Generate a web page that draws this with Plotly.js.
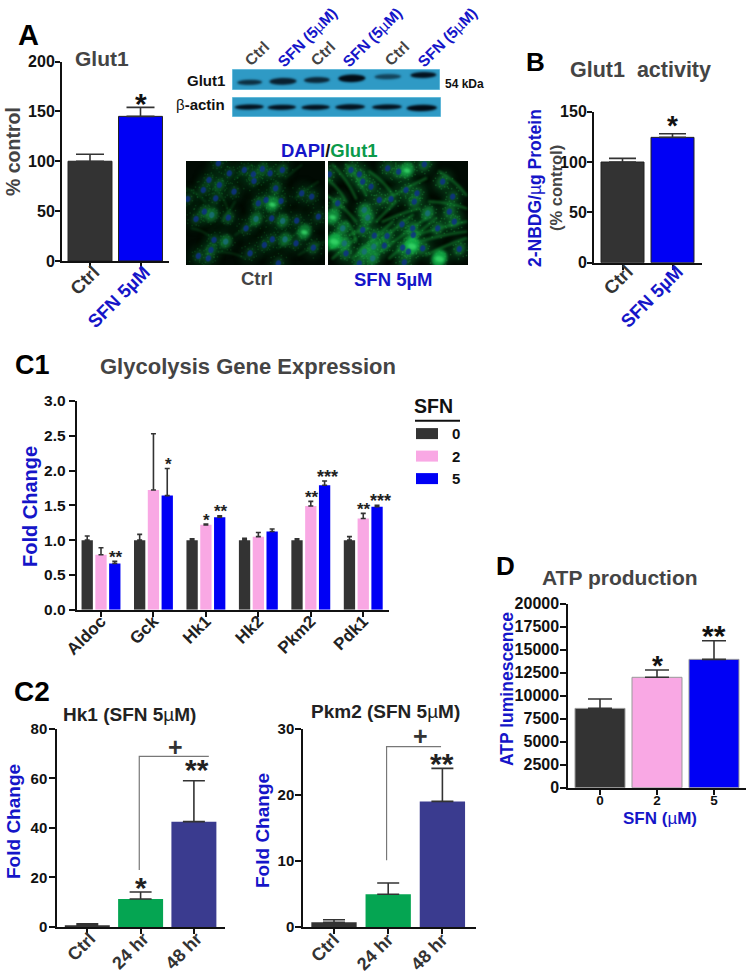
<!DOCTYPE html>
<html><head><meta charset="utf-8">
<script src="https://cdn.plot.ly/plotly-3.0.1.min.js"></script>
<style>html,body{margin:0;padding:0;background:#fff}#c{width:750px;height:980px}</style>
</head><body><div id="c"></div>
<script>
// ---- data ----
const glut1Cats = ['Ctrl','SFN 5µM'];
const glut1Vals = [100,145];
const glut1Errs = [7,9];
const activityCats = ['Ctrl','SFN 5µM'];
const activityVals = [100,124.5];
const activityErrs = [3.6,3.6];
const genes = ['Aldoc','Gck','Hk1','Hk2','Pkm2','Pdk1'];
const sfn0 = [1.0,1.0,1.0,1.0,1.0,1.0];
const sfn0Err = [0.06,0.083,0.02,0.025,0.02,0.05];
const sfn2 = [0.79,1.72,1.22,1.05,1.49,1.31];
const sfn2Err = [0.10,0.81,0.012,0.06,0.067,0.075];
const sfn5 = [0.665,1.64,1.33,1.125,1.79,1.48];
const sfn5Err = [0.03,0.39,0.02,0.035,0.06,0.02];
const timeCats = ['Ctrl','24 hr','48 hr'];
const hk1Vals = [0.7,11.3,42.5];
const hk1Errs = [0.6,2.8,16.5];
const pkm2Vals = [0.7,4.95,19];
const pkm2Errs = [0.4,1.7,5];
const atpCats = ['0','2','5'];
const atpVals = [8620,12000,13950];
const atpErrs = [1020,790,2030];
// micrograph nuclei: x, y (3x crop pixels), green glow level
const ctrlCells = [[100,15,1],[178,35,1],[133,45,1],[232,32,2],[255,45,1],[292,35,2],[205,48,1],[207,68,1],[72,65,1],[103,80,2],[55,95,1],[147,100,1],[8,122,1],[92,120,1],[272,90,2],[350,105,1],[380,115,1],[243,125,1],[288,128,1],[262,137,4],[220,135,2],[58,160,2],[80,170,3],[33,182,1],[130,178,2],[213,182,3],[260,180,1],[293,188,3],[335,187,1],[400,175,1],[183,210,1],[358,220,4],[87,245,1],[122,250,3],[262,243,1],[300,243,3],[238,260,1],[333,255,1],[385,268,2],[40,293,1],[78,275,2],[70,300,1],[195,285,1],[280,315,1]];
const sfnCells = [[185,30,1],[218,40,2],[243,35,4],[295,18,2],[100,48,1],[10,48,1],[75,35,2],[110,70,2],[135,85,1],[240,95,1],[273,105,1],[350,70,2],[380,115,1],[195,122,1],[160,125,1],[265,130,2],[35,135,2],[115,155,3],[125,178,3],[305,165,3],[370,160,2],[385,190,2],[50,210,3],[110,215,2],[228,198,1],[260,210,2],[335,210,2],[145,232,2],[183,233,2],[262,230,2],[25,248,5],[55,255,3],[143,265,3],[230,268,2],[258,262,5],[290,270,2],[175,262,2],[115,280,3],[247,280,2],[400,272,2],[340,300,5],[235,312,1],[140,300,3],[60,285,2],[100,315,2],[20,175,4]];
const ctrlFibres = [[0,90,60,130],[90,90,130,160],[150,60,200,20],[150,130,110,190],[300,60,350,20],[330,120,400,70],[20,210,80,240],[150,230,220,190],[280,270,340,220],[100,280,180,300],[340,290,420,250]];
const sfnFibres = [[0,60,60,130],[0,110,90,190],[20,20,90,120],[60,20,120,110],[130,40,200,110],[170,130,300,60],[60,190,90,250],[80,300,200,190],[110,290,260,170],[150,290,300,180],[190,300,330,180],[240,240,420,190],[280,250,420,220],[300,290,420,240],[0,280,60,240],[20,300,90,240],[210,130,150,190],[340,40,420,110],[310,130,420,150],[70,230,130,210],[170,190,280,150]];
// western-blot bands: x, y, w, h, darkness (3x crop pixels)
const glut1Bands = [[53,40,75,13,.75],[153,37,82,17,.85],[255,33,78,15,.8],[360,28,82,19,1],[468,23,80,13,.6],[575,18,78,15,.95]];
const actinBands = [[52,30,88,13,.95],[150,31,86,13,.95],[252,31,86,13,.95],[356,30,90,14,.95],[467,30,90,13,.95],[572,33,92,16,1]];

// ---- helpers ----
const W=750,H=980;
const FONT='Liberation Sans';
const DARK='#333333', BLUE='#0000f5', TBLUE='#1515c8', GREY='#444444', PINK='#f9a8e4', GREEN='#05a552', NAVY='#3a3b8f';
const idx=a=>a.map((_,i)=>i);
const blueLab=t=>`<span style="color:${TBLUE}">${t}</span>`;
function micrograph(cells,fibres,wpx,hpx,ox,oy,gain){
  const c=document.createElement('canvas');c.width=wpx;c.height=hpx;const g=c.getContext('2d');
  g.fillStyle='#010a03';g.fillRect(0,0,wpx,hpx);g.translate(-ox,-oy);
  g.filter='blur(10px)';
  cells.forEach(n=>{g.fillStyle=`rgba(15,95,40,${.22+gain*.2})`;g.beginPath();g.ellipse(n[0],n[1],30,36,.6,0,7);g.fill();});
  g.filter='blur(3px)';g.lineCap='round';
  fibres.forEach(f=>{g.strokeStyle=`rgba(25,165,60,${.25+gain*.2})`;g.lineWidth=5+gain*3;g.beginPath();g.moveTo(f[0],f[1]);g.quadraticCurveTo((f[0]+f[2])/2+8,(f[1]+f[3])/2-8,f[2],f[3]);g.stroke();});
  g.filter='blur(5px)';
  cells.forEach(n=>{const l=n[2];g.fillStyle=`rgba(22,${105+l*20},${55+l*6},${Math.min(.85,.16+gain*.08+l*.1)})`;g.beginPath();g.ellipse(n[0],n[1],12+l*2,16+l*2,.5,0,7);g.fill();});
  g.filter='blur(1px)';
  cells.forEach((n,i)=>{for(let k=0;k<14;k++){const a=i+k*2.4,r=14+(k*7)%20;g.fillStyle=`rgba(40,175,70,${.4+gain*.25})`;g.fillRect(n[0]+r*Math.cos(a)-1.5,n[1]+r*Math.sin(a)-1.5,3,3);}});
  g.filter='blur(3px)';
  cells.forEach(n=>{if(n[2]>=4){g.fillStyle='rgba(55,215,105,.85)';g.beginPath();g.ellipse(n[0],n[1]+2,10+(n[2]-4)*3,7+(n[2]-4)*2,.2,0,7);g.fill();}});
  g.filter='blur(1.5px)';
  cells.forEach(n=>{if(n[2]<4){g.fillStyle=n[2]>=3?'rgba(25,110,125,.8)':'rgba(14,48,140,.8)';g.beginPath();g.ellipse(n[0],n[1],8,9.5,.3,0,7);g.fill();}});
  return c.toDataURL('image/png');
}
function blot(bands,wpx,hpx){
  const c=document.createElement('canvas');c.width=wpx;c.height=hpx;const g=c.getContext('2d');
  g.fillStyle='#2f9ac5';g.fillRect(0,0,wpx,hpx);
  g.filter='blur(3px)';
  bands.forEach(b=>{g.fillStyle=`rgba(2,12,22,${b[4]})`;g.beginPath();g.ellipse(b[0],b[1],b[2]/2,b[3]*0.6,-0.02,0,7);g.fill();});
  g.filter='none';g.strokeStyle='#8fd3ea';g.lineWidth=3;g.strokeRect(0,0,wpx,hpx);
  return c.toDataURL('image/png');
}
function pimg(src,x0,y0,x1,y1){return {source:src,xref:'paper',yref:'paper',x:x0/W,y:1-y0/H,sizex:(x1-x0)/W,sizey:(y1-y0)/H,xanchor:'left',yanchor:'top',sizing:'stretch',layer:'below'};}
function txt(x,y,t,size,color,opt){return Object.assign({xref:'paper',yref:'paper',x:x/W,y:1-y/H,text:t,showarrow:false,xanchor:'center',yanchor:'middle',font:{family:FONT,size:size,color:color,weight:700}},opt||{});}
function star(ax,x,errTopVal,t,size,dy,dx,col){return {xref:ax[0],yref:ax[1],x:x,y:errTopVal,text:t,showarrow:false,xanchor:'center',yanchor:'bottom',xshift:dx||0,yshift:-0.45*size+(dy||0),font:{family:FONT,size:size,color:col||'#222',weight:700}};}
function xax(d,left,t0,pitch,right,vals,text,fs,angle){return {domain:[left/W,right/W],anchor:d.anchor,range:[(left-t0)/pitch,(right-t0)/pitch],tickmode:'array',tickvals:vals,ticktext:text,tickangle:angle,ticks:'outside',ticklen:5,tickwidth:2,tickcolor:'#111',ticklabelstandoff:d.standoff||0,ticklabelshift:d.shift||0,showline:true,linewidth:2,linecolor:'#111',showgrid:false,zeroline:false,fixedrange:true,tickfont:{family:FONT,size:fs,color:d.color||DARK,weight:700}};}
function yax(d,topPx,botPx,max,dtick,fs){return {domain:[1-botPx/H,1-topPx/H],anchor:d.anchor,range:[0,max],dtick:dtick,tick0:0,tickformat:d.fmt||'d',ticks:'outside',ticklen:d.len||6,tickwidth:2,tickcolor:'#111',ticklabelstandoff:d.standoff||0,showline:true,linewidth:2,linecolor:'#111',showgrid:false,zeroline:false,fixedrange:true,tickfont:{family:FONT,size:fs,color:'#111',weight:700}};}
function bar(xa,ya,x,y,e,colors,width,capw,extra){return Object.assign({type:'bar',xaxis:xa,yaxis:ya,x:x,y:y,width:width,showlegend:false,marker:{color:colors,line:{color:'#222',width:1}},error_y:{type:'data',symmetric:false,array:e,arrayminus:e.map(()=>0),color:'#333',thickness:1.6,width:capw}},extra||{});}

// ---- traces ----
const p=0.263,bw=0.2155;
const traces=[
 bar('x','y',idx(glut1Cats),glut1Vals,glut1Errs,[DARK,BLUE],0.87,14),
 bar('x2','y2',idx(activityCats),activityVals,activityErrs,[DARK,BLUE],0.86,13.5),
 bar('x3','y3',idx(genes),sfn0,sfn0Err,DARK,bw,2.5,{name:'0',showlegend:true,offset:-p-bw/2,marker:{color:DARK}}),
 bar('x3','y3',idx(genes),sfn2,sfn2Err,PINK,bw,2.5,{name:'2',showlegend:true,offset:-bw/2,marker:{color:PINK}}),
 bar('x3','y3',idx(genes),sfn5,sfn5Err,BLUE,bw,2.5,{name:'5',showlegend:true,offset:p-bw/2,marker:{color:BLUE}}),
 bar('x4','y4',idx(timeCats),hk1Vals,hk1Errs,[DARK,GREEN,NAVY],0.844,11,{marker:{color:[DARK,GREEN,NAVY]}}),
 bar('x5','y5',idx(timeCats),pkm2Vals,pkm2Errs,[DARK,GREEN,NAVY],0.836,11,{marker:{color:[DARK,GREEN,NAVY]}}),
 bar('x6','y6',idx(atpCats),atpVals,atpErrs,[DARK,PINK,BLUE],0.877,12,{marker:{color:[DARK,PINK,BLUE],line:{color:'#999',width:1}}})
];
const errTop=(v,e,i)=>v[i]+e[i];

// ---- annotations ----
const ann=[
 txt(28,35,'A',29,'#000'),txt(535,62,'B',26,'#000'),txt(32,365,'C1',27,'#000'),txt(32,691,'C2',28,'#000'),txt(505,566,'D',26,'#000'),
 txt(102,58,'Glut1',21,GREY),txt(640,70,'Glut1\u00a0\u00a0activity',21.5,GREY),txt(248,367,'Glycolysis Gene Expression',22,GREY),txt(620,577,'ATP production',21,GREY),
 txt(129,714,'Hk1 (SFN 5<span style="font-weight:normal">µ</span>M)',19,'#222'),txt(385,711,'Pkm2 (SFN 5<span style="font-weight:normal">µ</span>M)',19,'#222'),
 // y titles
 txt(13,152,'% control',19.5,GREY,{textangle:-90}),
 txt(535,188,'2-NBDG/<span style="font-weight:normal">µ</span>g Protein',17.5,TBLUE,{textangle:-90}),
 txt(556,188,'(% control)',16.5,GREY,{textangle:-90}),
 txt(30,507,'Fold Change',20,TBLUE,{textangle:-90}),
 txt(13,822,'Fold Change',19,TBLUE,{textangle:-90}),
 txt(262,831,'Fold Change',19,TBLUE,{textangle:-90}),
 txt(507,689,'ATP luminescence',17.5,TBLUE,{textangle:-90}),
 txt(660,818,'SFN (<span style="font-weight:normal">µ</span>M)',17,TBLUE),
 // blot & micrograph labels
 txt(227,81,'Glut1',15,'#111',{xanchor:'right'}),txt(227,105,'<span style="font-weight:normal">β</span>-actin',15,'#111',{xanchor:'right'}),
 txt(443,84,'54 kDa',12,'#111',{xanchor:'left'}),
 txt(329,150,`<span style="color:${TBLUE}">DAPI</span><span style="color:#111">/</span><span style="color:#0a9a4a">Glut1</span>`,18.5,'#111'),
 txt(257,278,'Ctrl',18.5,GREY),txt(393,279,'SFN 5µM',18.5,TBLUE),
 txt(257,54,'Ctrl',15.5,GREY,{textangle:-45}),txt(323,54,'Ctrl',15.5,GREY,{textangle:-45}),txt(397,54,'Ctrl',15.5,GREY,{textangle:-45}),
 txt(307,37,'SFN (5<span style="font-weight:normal">µ</span>M)',15.5,TBLUE,{textangle:-45}),txt(372,37,'SFN (5<span style="font-weight:normal">µ</span>M)',15.5,TBLUE,{textangle:-45}),txt(447,37,'SFN (5<span style="font-weight:normal">µ</span>M)',15.5,TBLUE,{textangle:-45}),
 // significance marks tied to the data
 star(['x','y'],1,errTop(glut1Vals,glut1Errs,1),'*',30,-1.5,0,'#111'),
 star(['x2','y2'],1,errTop(activityVals,activityErrs,1),'*',28,3,0,'#111'),
 star(['x3','y3'],0+p,errTop(sfn5,sfn5Err,0),'**',17,0,1),
 star(['x3','y3'],1+p,errTop(sfn5,sfn5Err,1),'*',17,0,1),
 star(['x3','y3'],2,errTop(sfn2,sfn2Err,2),'*',17,0,1),
 star(['x3','y3'],2+p,errTop(sfn5,sfn5Err,2),'**',17,0,1),
 star(['x3','y3'],4,errTop(sfn2,sfn2Err,4),'**',17,0,1),
 star(['x3','y3'],4+p,errTop(sfn5,sfn5Err,4),'***',18,0,3),
 star(['x3','y3'],5,errTop(sfn2,sfn2Err,5),'**',17,0,1),
 star(['x3','y3'],5+p,errTop(sfn5,sfn5Err,5),'***',18,0,3),
 star(['x4','y4'],1,errTop(hk1Vals,hk1Errs,1),'*',30),
 star(['x4','y4'],2,errTop(hk1Vals,hk1Errs,2),'**',30,6,3),
 star(['x5','y5'],2,errTop(pkm2Vals,pkm2Errs,2),'**',30),
 star(['x6','y6'],1,errTop(atpVals,atpErrs,1),'*',28,0,0,'#111'),
 star(['x6','y6'],2,errTop(atpVals,atpErrs,2),'**',30,0,0,'#111'),
 txt(175,747,'+',25,'#333'),txt(420,736,'+',25,'#333')
];

const bracket=(xa,ya,x0,x1,y0,y1)=>({type:'path',xref:xa,yref:ya,path:`M${x0},${y0}L${x0},${y1}L${x1},${y1}`,line:{color:'#777',width:1.2}});
const layout={
 width:W,height:H,margin:{l:0,r:0,t:0,b:0},paper_bgcolor:'#fff',plot_bgcolor:'rgba(0,0,0,0)',
 barmode:'overlay',font:{family:FONT},hovermode:false,
 xaxis:xax({anchor:'y',standoff:-14,shift:4},62,90,50.5,169,idx(glut1Cats),[`${glut1Cats[0]}`,blueLab(glut1Cats[1])],18.5,-45),
 yaxis:yax({anchor:'x',len:5,standoff:-3},61.5,261,200,50,16),
 xaxis2:xax({anchor:'y2',standoff:-16,shift:5},594,622.5,50,702,idx(activityCats),[activityCats[0],blueLab(activityCats[1])],18.5,-45),
 yaxis2:yax({anchor:'x2',len:5,standoff:-3},111.7,262.7,150,50,16),
 xaxis3:xax({anchor:'y3',color:'#222',standoff:-12},76.7,101,52.45,389,idx(genes),genes,17,-45),
 yaxis3:yax({anchor:'x3',fmt:'.1f'},401,609.7,3,0.5,15.5),
 xaxis4:xax({anchor:'y4',standoff:-13,shift:3},57.3,87.3,53.3,225,idx(timeCats),timeCats,18,-45),
 yaxis4:yax({anchor:'x4',standoff:-1},728.7,927,80,20,15),
 xaxis5:xax({anchor:'y5',standoff:-12},303.3,334,54.2,476,idx(timeCats),timeCats,18,-45),
 yaxis5:yax({anchor:'x5',standoff:-2},728.7,927,30,10,15),
 xaxis6:xax({anchor:'y6',color:'#111',standoff:-6},568.3,600,57,746,idx(atpCats),atpCats,13.5,0),
 yaxis6:yax({anchor:'x6',standoff:-2},603.7,787.7,20000,2500,16),
 legend:{x:412/W,y:1-392/H,xanchor:'left',yanchor:'top',bgcolor:'rgba(0,0,0,0)',itemwidth:30,itemclick:false,itemdoubleclick:false,
   title:{text:'SFN',font:{family:FONT,size:19.5,color:'#111',weight:700}},font:{family:FONT,size:15,color:'#111',weight:700}},
 annotations:ann,
 shapes:[
  bracket('x4','y4',0.975,2.28,23,68.8),
  bracket('x5','y5',0.97,1.975,10.1,27.3),
  {type:'line',xref:'paper',yref:'paper',x0:415/W,x1:460/W,y0:1-420.7/H,y1:1-420.7/H,line:{color:'#111',width:2}}
 ],
 images:[
  pimg(blot(glut1Bands,625,63),232,69,440,90),
  pimg(blot(actinBands,630,60),232,97,441,117),
  pimg(micrograph(ctrlCells,ctrlFibres,417,312,3,8,0),186,161,325,265),
  pimg(micrograph(sfnCells,sfnFibres,420,312,6,8,1),328,161,468,265)
 ]
};
Plotly.newPlot('c',traces,layout,{displayModeBar:false,staticPlot:true}).then(()=>{
  document.querySelectorAll('.legend .legendpoints path').forEach(el=>el.setAttribute('d','M6,5.5H-16V-5.5H6Z'));
  document.querySelectorAll('.legend .legendtitletext').forEach(el=>el.setAttribute('transform','translate(0,-4)'));
});
</script></body></html>
